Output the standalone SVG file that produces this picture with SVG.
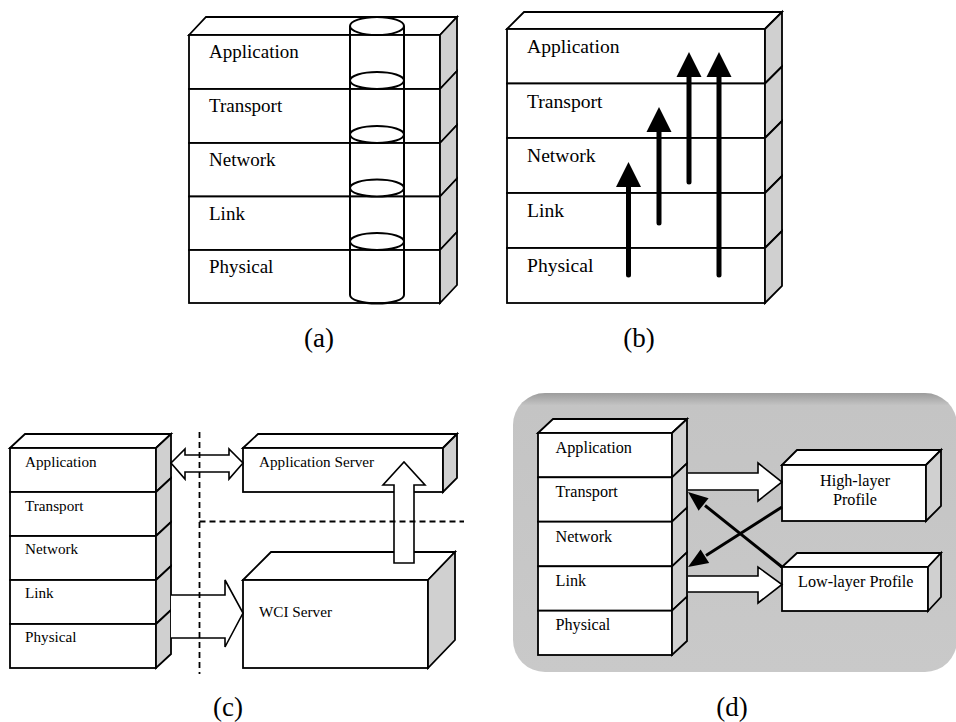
<svg xmlns="http://www.w3.org/2000/svg" width="956" height="722" viewBox="0 0 956 722">
<defs>
<style>
.f{fill:#fff;stroke:#000;stroke-width:1.8;stroke-linejoin:miter}
.s{fill:#d0d0d0;stroke:#000;stroke-width:1.8}
.t{font-family:"Liberation Serif","Times New Roman",serif;fill:#000}
.ta{font-size:19px}
.tb{font-size:19.6px}
.tc{font-size:15.2px}
.td{font-size:16.2px}
.cap{font-family:"Liberation Serif","Times New Roman",serif;font-size:27px;fill:#000;text-anchor:middle}
.cyl{fill:none;stroke:#000;stroke-width:2}
.ell{fill:#fff;stroke:#000;stroke-width:2}
.thick{stroke:#000;stroke-width:5;stroke-linecap:round;fill:none}
.hollow{fill:#fff;stroke:#000;stroke-width:1.6;stroke-linejoin:miter}
.dash{stroke:#000;stroke-width:1.8;stroke-dasharray:6 4;fill:none}
.blk{stroke:#000;stroke-width:3;fill:none}
</style>
<linearGradient id="bg" x1="0" y1="0" x2="0" y2="1">
<stop offset="0" stop-color="#9c9c9c"/>
<stop offset="0.045" stop-color="#c4c4c4"/>
<stop offset="1" stop-color="#c9c9c9"/>
</linearGradient>
</defs>
<rect width="956" height="722" fill="#fff"/>

<!-- Panel (a) -->
<g id="stack-a">
<polygon class="f" points="189,35 206,17 457,17 440,35"/>
<g id="a-application"><rect class="f" x="189" y="35" width="251" height="54"/><polygon class="s" points="440,35 457,17 457,71 440,89"/><text class="t ta" x="209" y="58">Application</text></g>
<g id="a-transport"><rect class="f" x="189" y="89" width="251" height="54"/><polygon class="s" points="440,89 457,71 457,125 440,143"/><text class="t ta" x="209" y="112">Transport</text></g>
<g id="a-network"><rect class="f" x="189" y="143" width="251" height="53.5"/><polygon class="s" points="440,143 457,125 457,178.5 440,196.5"/><text class="t ta" x="209" y="166">Network</text></g>
<g id="a-link"><rect class="f" x="189" y="196.5" width="251" height="53.5"/><polygon class="s" points="440,196.5 457,178.5 457,232 440,250"/><text class="t ta" x="209" y="220">Link</text></g>
<g id="a-physical"><rect class="f" x="189" y="250" width="251" height="53"/><polygon class="s" points="440,250 457,232 457,285 440,303"/><text class="t ta" x="209" y="273">Physical</text></g>
</g>
<g id="cylinder-a">
<line class="cyl" x1="350" y1="26" x2="350" y2="295"/>
<line class="cyl" x1="404" y1="26" x2="404" y2="295"/>
<path class="cyl" d="M350,295 A27,8.5 0 0 0 404,295"/>
<ellipse class="ell" cx="377" cy="26" rx="27" ry="9"/>
<ellipse class="ell" cx="377" cy="80.5" rx="27" ry="8.5"/>
<ellipse class="ell" cx="377" cy="134.5" rx="27" ry="8.5"/>
<ellipse class="ell" cx="377" cy="188" rx="27" ry="8.5"/>
<ellipse class="ell" cx="377" cy="241.5" rx="27" ry="8.5"/>
</g>
<text class="cap" x="319" y="347">(a)</text>

<!-- Panel (b) -->
<g id="stack-b">
<polygon class="f" points="507,29 524,12 782,12 765,29"/>
<g id="b-application"><rect class="f" x="507" y="29" width="258" height="54.5"/><polygon class="s" points="765,29 782,12 782,66.5 765,83.5"/><text class="t tb" x="527" y="52.5">Application</text></g>
<g id="b-transport"><rect class="f" x="507" y="83.5" width="258" height="54.5"/><polygon class="s" points="765,83.5 782,66.5 782,121 765,138"/><text class="t tb" x="527" y="107.5">Transport</text></g>
<g id="b-network"><rect class="f" x="507" y="138" width="258" height="55"/><polygon class="s" points="765,138 782,121 782,176 765,193"/><text class="t tb" x="527" y="162">Network</text></g>
<g id="b-link"><rect class="f" x="507" y="193" width="258" height="55"/><polygon class="s" points="765,193 782,176 782,231 765,248"/><text class="t tb" x="527" y="217">Link</text></g>
<g id="b-physical"><rect class="f" x="507" y="248" width="258" height="55"/><polygon class="s" points="765,248 782,231 782,286 765,303"/><text class="t tb" x="527" y="272">Physical</text></g>
</g>
<g id="connectors-b">
<line class="thick" x1="628.5" y1="275" x2="628.5" y2="182"/>
<polygon points="628.5,162 641,187 616,187" fill="#000"/>
<line class="thick" x1="659" y1="223" x2="659" y2="127"/>
<polygon points="659,107 671.5,132 646.5,132" fill="#000"/>
<line class="thick" x1="689" y1="182" x2="689" y2="72"/>
<polygon points="689,52 701.5,77 676.5,77" fill="#000"/>
<line class="thick" x1="719" y1="275" x2="719" y2="72"/>
<polygon points="719,52 731.5,77 706.5,77" fill="#000"/>
</g>
<text class="cap" x="639" y="347">(b)</text>

<!-- Panel (c) -->
<g id="stack-c">
<polygon class="f" points="10,448 25,434 171,434 156,448"/>
<g id="c-application"><rect class="f" x="10" y="448" width="146" height="44"/><polygon class="s" points="156,448 171,434 171,478 156,492"/><text class="t tc" x="25" y="466.7">Application</text></g>
<g id="c-transport"><rect class="f" x="10" y="492" width="146" height="44"/><polygon class="s" points="156,492 171,478 171,522 156,536"/><text class="t tc" x="25" y="510.7">Transport</text></g>
<g id="c-network"><rect class="f" x="10" y="536" width="146" height="44"/><polygon class="s" points="156,536 171,522 171,566 156,580"/><text class="t tc" x="25" y="554.3">Network</text></g>
<g id="c-link"><rect class="f" x="10" y="580" width="146" height="44"/><polygon class="s" points="156,580 171,566 171,610 156,624"/><text class="t tc" x="25" y="598">Link</text></g>
<g id="c-physical"><rect class="f" x="10" y="624" width="146" height="44"/><polygon class="s" points="156,624 171,610 171,654 156,668"/><text class="t tc" x="25" y="641.7">Physical</text></g>
</g>
<g id="app-server">
<polygon class="f" points="243,448 258,434 457,434 443,448"/>
<rect class="f" x="243" y="448" width="200" height="44"/>
<polygon class="s" points="443,448 457,434 457,478 443,492"/>
<text class="t tc" x="259" y="466.7">Application Server</text>
</g>
<g id="wci-server">
<polygon class="f" points="243,580 271,552 455,552 428,580"/>
<rect class="f" x="243" y="580" width="185" height="88"/>
<polygon class="s" points="428,580 455,552 455,640 428,668"/>
<text class="t tc" x="259" y="616.7">WCI Server</text>
</g>
<g id="connectors-c">
<path class="hollow" d="M171,463 L185,449 L185,455 L229,455 L229,449 L243,463 L229,479 L229,472 L185,472 L185,479 Z"/>
<path class="hollow" d="M394,563 L394,485 L383,485 L404,462 L425,485 L414,485 L414,563 Z"/>
<path class="hollow" d="M171,595 L225,595 L225,580 L243,613 L225,647 L225,638 L171,638"/>
<line class="dash" x1="199.5" y1="432" x2="199.5" y2="674"/>
<line class="dash" x1="199.5" y1="521.5" x2="464" y2="521.5"/>
</g>
<text class="cap" x="228" y="716">(c)</text>

<!-- Panel (d) -->
<rect id="d-background" x="513" y="393" width="444" height="279" rx="32" ry="32" fill="url(#bg)"/>
<g id="stack-d">
<polygon class="f" points="538,433 553,419 687,419 672,433"/>
<g id="d-application"><rect class="f" x="538" y="433" width="134" height="44.3"/><polygon class="s" points="672,433 687,419 687,463.3 672,477.3"/><text class="t td" x="555.5" y="452.5">Application</text></g>
<g id="d-transport"><rect class="f" x="538" y="477.3" width="134" height="44.4"/><polygon class="s" points="672,477.3 687,463.3 687,507.7 672,521.7"/><text class="t td" x="555.5" y="496.8">Transport</text></g>
<g id="d-network"><rect class="f" x="538" y="521.7" width="134" height="44.6"/><polygon class="s" points="672,521.7 687,507.7 687,552.3 672,566.3"/><text class="t td" x="555.5" y="541.5">Network</text></g>
<g id="d-link"><rect class="f" x="538" y="566.3" width="134" height="44.4"/><polygon class="s" points="672,566.3 687,552.3 687,596.7 672,610.7"/><text class="t td" x="555.5" y="586">Link</text></g>
<g id="d-physical"><rect class="f" x="538" y="610.7" width="134" height="44.3"/><polygon class="s" points="672,610.7 687,596.7 687,641 672,655"/><text class="t td" x="555.5" y="630">Physical</text></g>
</g>
<g id="high-layer-profile">
<polygon class="f" points="782,465 797,450 941,450 926,465"/>
<rect class="f" x="782" y="465" width="144" height="56"/>
<polygon class="s" points="926,465 941,450 941,506 926,521"/>
<text class="t td" x="855" y="486" text-anchor="middle">High-layer</text>
<text class="t td" x="855" y="505" text-anchor="middle">Profile</text>
</g>
<g id="low-layer-profile">
<polygon class="f" points="782,567 797,553 941,553 928,567"/>
<rect class="f" x="782" y="567" width="146" height="44"/>
<polygon class="s" points="928,567 941,553 941,597 928,611"/>
<text class="t td" x="798" y="586.7">Low-layer Profile</text>
</g>
<g id="connectors-d">
<path class="hollow" d="M688,473 L758,473 L758,463 L782,482 L758,501 L758,490 L688,490"/>
<path class="hollow" d="M688,576 L758,576 L758,567 L782,584.5 L758,603 L758,592 L688,592"/>
<line class="blk" x1="782" y1="567" x2="705" y2="505.5"/>
<polygon points="688,492 708.6,498.2 698.6,510.7" fill="#000"/>
<line class="blk" x1="782" y1="507" x2="706" y2="555.5"/>
<polygon points="688,567 700.6,549.5 709.2,562.9" fill="#000"/>
</g>
<text class="cap" x="732" y="716">(d)</text>
</svg>
